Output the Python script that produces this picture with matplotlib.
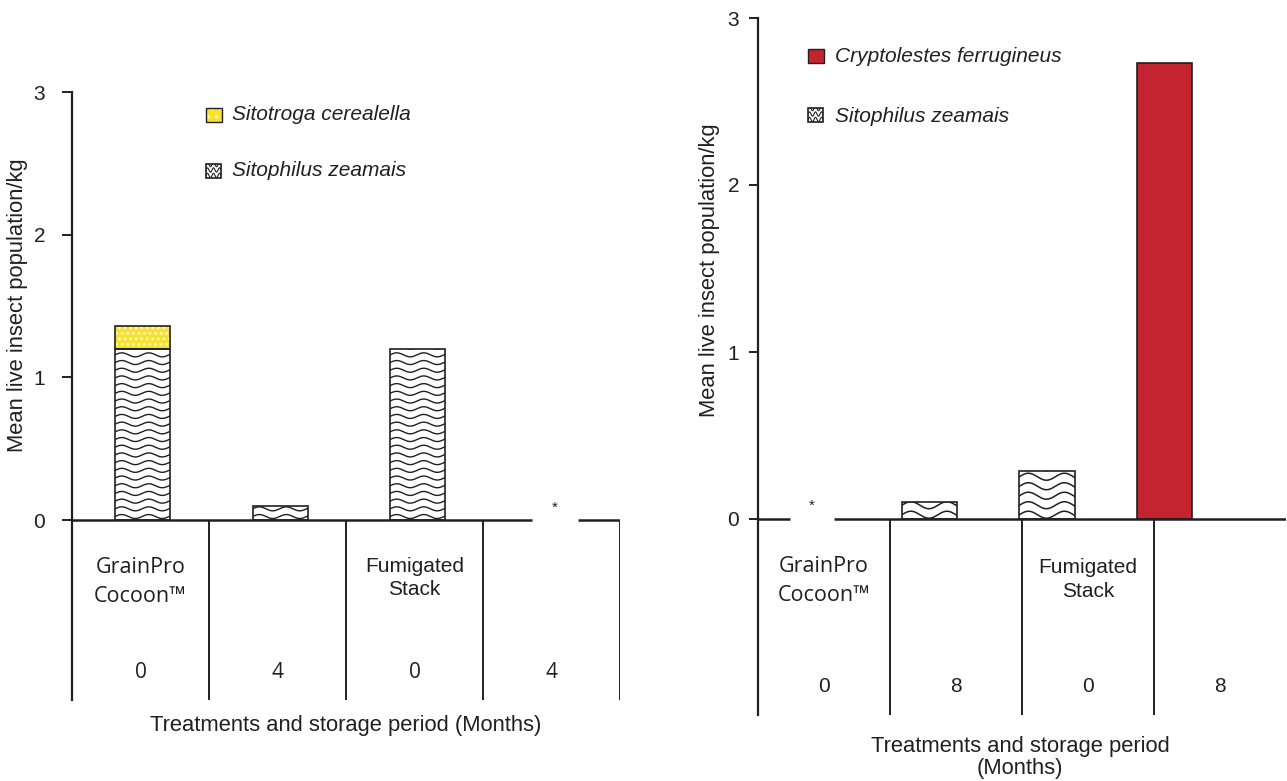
import numpy as np
import matplotlib
matplotlib.use("Agg")
import matplotlib.pyplot as plt
from matplotlib.patches import Rectangle

plt.rcParams.update({'font.size': 15, 'font.family': 'Liberation Sans',
                     'axes.unicode_minus': False, 'hatch.linewidth': 1.3})

# ---- data ----
left_periods = ['0', '4', '0', '4']
left_zeamais = [1.2, 0.1, 1.2, 0.0]
left_cerealella = [0.16, 0.0, 0.0, 0.0]

right_periods = ['0', '8', '0', '8']
right_zeamais = [0.0, 0.1, 0.29, 0.0]
right_ferrugineus = [0.0, 0.0, 0.0, 2.73]

treatments = ['GrainPro\nCocoon\u2122', 'Fumigated\nStack']
yticks = [0, 1, 2, 3]

DARK = '#231f20'
YELLOW = '#f6e22e'
RED = '#c4242f'
W, H = 1287, 781

fig = plt.figure(figsize=(W / 100, H / 100), dpi=100)


def make_axes(box, ytop_px, yzero_px, xlim):
    l, t, r, b = box
    ppu = (yzero_px - ytop_px) / 3.0
    ylo = -(b - yzero_px) / ppu
    ax = fig.add_axes([l / W, 1 - b / H, (r - l) / W, (b - t) / H])
    ax.set_xlim(*xlim)
    ax.set_ylim(ylo, 3)
    ax.patch.set_alpha(0)
    for s in ['top', 'right', 'bottom']:
        ax.spines[s].set_visible(False)
    ax.spines['left'].set_linewidth(1.6)
    ax.spines['left'].set_color(DARK)
    ax.set_xticks([])
    ax.set_yticks(yticks)
    ax.set_yticklabels([str(v) for v in yticks])
    sx = (r - l) / (xlim[1] - xlim[0])
    sy = ppu
    yf = lambda py: (b - py) / (b - t)
    return ax, sx, sy, ylo, yf


def wave_rect(ax, x0, y0, w, h, sx, sy, transform=None, period=27, amp=2.0,
              gap=7.7, lw=1.0, zorder=2):
    tr = transform if transform is not None else ax.transData
    bg = Rectangle((x0, y0), w, h, facecolor='white', edgecolor='none',
                   transform=tr, zorder=zorder, clip_on=False)
    ax.add_patch(bg)
    xs = np.linspace(x0, x0 + w, 300)
    n = int(h * sy / gap) + 2
    for k in range(n):
        yb = y0 + (k * gap + gap * 0.45) / sy
        ys = yb + amp / sy * np.sin(2 * np.pi * (xs - x0) * sx / period)
        ln, = ax.plot(xs, ys, color=DARK, lw=lw, transform=tr, zorder=zorder + 0.1)
        ln.set_clip_path(bg)
    ax.add_patch(Rectangle((x0, y0), w, h, facecolor='none', edgecolor=DARK,
                           lw=1.2, transform=tr, zorder=zorder + 0.2, clip_on=False))


def draw_table(ax, ylo, yf, periods, num_family, star_idx, gap_half, draw_last,
               num_py, lab_py, tick_len, tick_pad):
    lo, hi = ax.get_xlim()
    edges = np.linspace(lo, hi, 5)
    centers = (edges[:-1] + edges[1:]) / 2
    # x axis line at zero, with a gap at the starred (zero) category
    ax.hlines(0, lo, star_idx - gap_half, color=DARK, lw=1.8, zorder=5)
    ax.hlines(0, star_idx + gap_half, hi, color=DARK, lw=1.8, zorder=5)
    ax.text(star_idx, 0.035, '*', ha='center', va='bottom', fontsize=11, color=DARK)
    divs = edges[1:] if draw_last else edges[1:-1]
    ax.vlines(divs, ylo, 0, color=DARK, lw=1.4)
    tx = ax.get_xaxis_transform()
    for c, p in zip(centers, periods):
        ax.text(c, yf(num_py), p, transform=tx, ha='center', va='center',
                family=num_family, fontsize=15, color=DARK)
    # treatment names
    ax.text(centers[0], yf(lab_py[0]), treatments[0], transform=tx, ha='center',
            va='center', family='Open Sans', fontsize=15.5, linespacing=1.45,
            color=DARK)
    ax.text(centers[2], yf(lab_py[1]), treatments[1], transform=tx, ha='center',
            va='center', fontsize=15, linespacing=1.3, color=DARK)
    ax.tick_params(axis='y', length=tick_len, width=1.4, color=DARK,
                   pad=tick_pad, labelsize=15, labelcolor=DARK)
    ax.spines['left'].set_bounds(ylo, 3)


# ---- left panel ----
axL, sxL, syL, yloL, yfL = make_axes((72, 92, 620, 700), 92, 520, (-0.513, 3.473))
pos = np.arange(4)
bw = 0.4
barsL = axL.bar(pos, left_zeamais, bw, facecolor='none', edgecolor='none')
for p in barsL.patches:
    if p.get_height() > 0:
        wave_rect(axL, p.get_x(), p.get_y(), p.get_width(), p.get_height(), sxL, syL)
axL.bar(pos, left_cerealella, bw, bottom=left_zeamais, facecolor=YELLOW,
        edgecolor='#fff8c8', hatch='...', lw=0, zorder=2)
for p, v in zip(axL.bar(pos, left_cerealella, bw, bottom=left_zeamais,
                        facecolor='none', edgecolor=DARK, lw=1.2, zorder=3).patches,
                left_cerealella):
    p.set_visible(v > 0)
draw_table(axL, yloL, yfL, left_periods, 'Open Sans', 3, 0.165, True, 672,
           (582, 578), 7.2, 12)

# legend left (axes fraction coords)
lw_px, lh_px = 548, 608
axL.add_patch(Rectangle(((206 - 72) / lw_px, yfL(122)), 16 / lw_px, 14 / lh_px,
                        transform=axL.transAxes, facecolor=YELLOW, edgecolor='#fff8c8',
                        lw=0, hatch='..', clip_on=False))
axL.add_patch(Rectangle(((206 - 72) / lw_px, yfL(122)), 16 / lw_px, 14 / lh_px,
                        transform=axL.transAxes, facecolor='none', edgecolor=DARK,
                        lw=1.0, clip_on=False))
axL.text((232 - 72) / lw_px, yfL(114), 'Sitotroga cerealella', transform=axL.transAxes,
         style='italic', va='center', color=DARK)
wave_rect(axL, (206 - 72) / lw_px, yfL(178), 15 / lw_px, 14 / lh_px, lw_px, lh_px,
          transform=axL.transAxes, period=6, amp=2.2, gap=5.5, lw=0.8)
axL.text((232 - 72) / lw_px, yfL(171), 'Sitophilus zeamais', transform=axL.transAxes,
         style='italic', va='center', color=DARK)

# ---- right panel ----
axR, sxR, syR, yloR, yfR = make_axes((758, 18, 1286, 715), 18, 519, (-0.46, 4.034))
bwR = 0.47
barsR = axR.bar(pos, right_zeamais, bwR, facecolor='none', edgecolor='none')
for p in barsR.patches:
    if p.get_height() > 0:
        wave_rect(axR, p.get_x(), p.get_y(), p.get_width(), p.get_height(), sxR, syR,
                  period=36, amp=3.5, gap=9.5, lw=1.1)
for p, v in zip(axR.bar(pos, right_ferrugineus, bwR, facecolor=RED, edgecolor=DARK,
                        lw=1.2, zorder=3).patches, right_ferrugineus):
    p.set_visible(v > 0)
draw_table(axR, yloR, yfR, right_periods, 'Liberation Sans', 0, 0.19, False, 686,
           (581, 579.5), 6.5, 7)

rw_px, rh_px = 528, 697
axR.add_patch(Rectangle(((808 - 758) / rw_px, yfR(63)), 16 / rw_px, 14 / rh_px,
                        transform=axR.transAxes, facecolor=RED, edgecolor=DARK,
                        lw=1.0, clip_on=False))
axR.text((835 - 758) / rw_px, yfR(56), 'Cryptolestes ferrugineus', transform=axR.transAxes,
         style='italic', va='center', color=DARK)
wave_rect(axR, (808 - 758) / rw_px, yfR(122), 15 / rw_px, 14 / rh_px, rw_px, rh_px,
          transform=axR.transAxes, period=6, amp=2.2, gap=5.5, lw=0.8)
axR.text((835 - 758) / rw_px, yfR(117), 'Sitophilus zeamais', transform=axR.transAxes,
         style='italic', va='center', color=DARK)

# ---- axis titles ----
fig.text(18 / W, 1 - 305 / H, 'Mean live insect population/kg', rotation=90,
         ha='center', va='center', fontsize=15.8, color=DARK)
fig.text(710 / W, 1 - 270 / H, 'Mean live insect population/kg', rotation=90,
         ha='center', va='center', fontsize=15.8, color=DARK)
fig.text(346 / W, 1 - 726 / H, 'Treatments and storage period (Months)',
         ha='center', va='center', fontsize=15.8, color=DARK)
fig.text(1020 / W, 1 - 757.5 / H, 'Treatments and storage period\n(Months)',
         ha='center', va='center', linespacing=1.05, fontsize=15.8, color=DARK)

fig.savefig('out.png', dpi=100)
